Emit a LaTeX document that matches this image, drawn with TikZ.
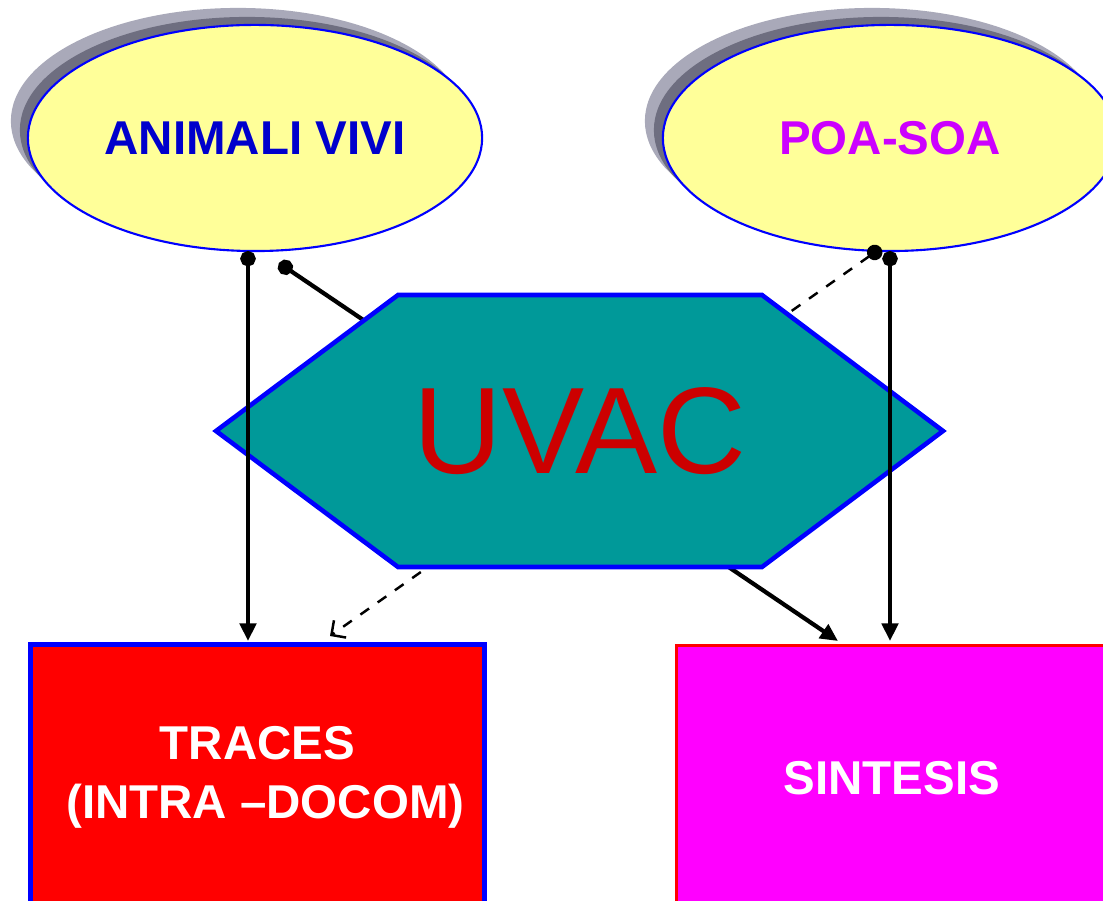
\documentclass[tikz,border=0pt]{standalone}
\usepackage{fontspec}
\setmainfont{Liberation Sans}
\usetikzlibrary{shapes.geometric,arrows.meta}
\definecolor{ovalfill}{HTML}{FFFF99}
\definecolor{shadelight}{HTML}{A9A9B9}
\definecolor{shadedark}{HTML}{6E6E80}
\definecolor{navytext}{HTML}{0000CC}
\definecolor{violettext}{HTML}{CC00FF}
\definecolor{tealfill}{HTML}{009999}
\definecolor{uvacred}{HTML}{CC0000}
\definecolor{boxred}{HTML}{FF0000}
\definecolor{boxpink}{HTML}{FF00FF}
\definecolor{edgeblue}{HTML}{0000FF}
\begin{document}
\begin{tikzpicture}[x=0.01cm,y=-0.01cm,
  oval/.style={ellipse, draw=edgeblue, line width=0.6pt, fill=ovalfill, minimum width=4.54cm, minimum height=2.26cm, inner sep=0pt, font=\fontsize{13.5}{16}\selectfont\bfseries},
  ovalshade/.style={ellipse, minimum width=4.54cm, minimum height=2.26cm, inner sep=0pt},
  box/.style={rectangle, minimum height=2.65cm, inner sep=0pt, align=center, text=white, font=\fontsize{13.5}{16.8}\selectfont\bfseries},
  link/.style={line width=1.2pt, {Circle[length=4.4pt]}-{Triangle[length=5pt,width=4.6pt]}},
  hint/.style={line width=0.7pt, dashed, {Circle[length=4.4pt]}-{Straight Barb[length=3pt,width=6pt]}}]
\useasboundingbox (0,0) rectangle (1103,901);
\node[ovalshade, fill=shadelight] (animsh1) at (238,121){};
\node[ovalshade, fill=shadedark] (animsh2) at (247,130){};
\node[oval, text=navytext] (anim) at (255,138){ANIMALI VIVI};
\node[ovalshade, fill=shadelight] (poash1) at (872,121){};
\node[ovalshade, fill=shadedark] (poash2) at (881,130){};
\node[oval, text=violettext] (poa) at (890,138){POA-SOA};
\coordinate (a1) at (248,251);
\coordinate (a2) at (279,263);
\coordinate (p1) at (881,248);
\coordinate (p2) at (890,251);
\coordinate (t1) at (248,641);
\coordinate (t2) at (330,636);
\coordinate (s1) at (838,641);
\coordinate (s2) at (890,641);
\draw[link](a2) -- (s1);
\draw[hint](p1) -- (t2);
\filldraw[fill=tealfill, draw=edgeblue, line width=1.3pt] (216,431) -- (398,295) -- (762,295) -- (943,431) -- (762,567) -- (398,567) -- cycle;
\node[text=uvacred, font=\fontsize{35}{40}\selectfont] (uvac) at (580,431){UVAC};
\draw[link](a1) -- (t1);
\draw[link](p2) -- (s2);
\node[box, fill=boxred, draw=edgeblue, line width=1.4pt, minimum width=4.54cm] (traces) at (257.5,777.5){TRACES\\\hspace*{4.5pt}(INTRA --DOCOM)};
\node[box, fill=boxpink, draw=boxred, line width=0.85pt, minimum width=4.30cm] (sint) at (892,778){SINTESIS};
\end{tikzpicture}
\end{document}
